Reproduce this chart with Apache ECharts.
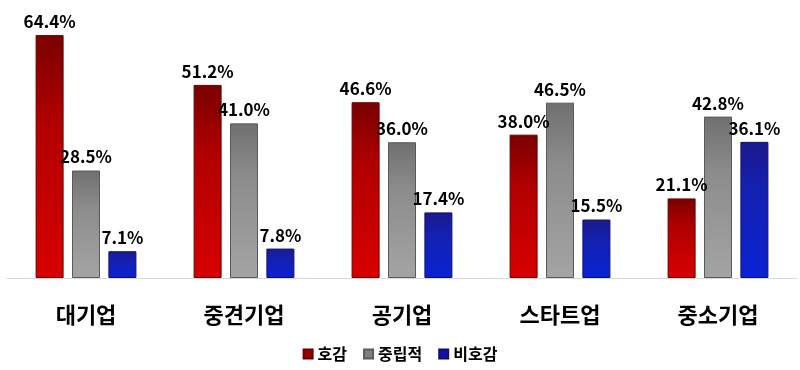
<!DOCTYPE html>
<html><head><meta charset="utf-8">
<script src="https://cdn.jsdelivr.net/npm/echarts@6/dist/echarts.min.js"></script>
<style>html,body{margin:0;padding:0;background:#fff}#c{width:800px;height:370px}</style>
</head><body><div id="c"></div>
<script>
const categories = ['대기업', '중견기업', '공기업', '스타트업', '중소기업'];
const favorable = [64.4, 51.2, 46.6, 38.0, 21.1];
const neutral = [28.5, 41.0, 36.0, 46.5, 42.8];
const unfavorable = [7.1, 7.8, 17.4, 15.5, 36.1];
const seriesNames = ['호감', '중립적', '비호감'];

const font = '"Noto Sans CJK KR", "Noto Sans", sans-serif';
function grad(top, mid, bottom) {
  return new echarts.graphic.LinearGradient(0, 0, 0, 1, [{offset: 0, color: top}, {offset: 0.35, color: mid}, {offset: 1, color: bottom}]);
}
const styles = [
  {color: grad('#7a0000', '#b00000', '#d80000'), borderColor: '#6a0000', borderWidth: 1},
  {color: grad('#707070', '#8c8c8c', '#a4a4a4'), borderColor: '#5a5a5a', borderWidth: 1},
  {color: grad('#1a1a8c', '#1420b0', '#0a22d4'), borderColor: '#10106a', borderWidth: 1}
];
const legendColors = ['#a00000', '#808080', '#1010b0'];
const data = [favorable, neutral, unfavorable];

const chart = echarts.init(document.getElementById('c'));
chart.setOption({
  animation: false,
  legend: {
    bottom: 3, left: 'center', itemWidth: 9, itemHeight: 9, itemGap: 16,
    icon: 'rect',
    textStyle: {fontFamily: font, fontSize: 16, fontWeight: 'bold', color: '#000'},
    data: seriesNames.map((n, i) => ({name: n, itemStyle: {color: legendColors[i]}}))
  },
  grid: {left: 7, right: 3, top: 14, bottom: 92, containLabel: false},
  xAxis: {
    type: 'category', data: categories,
    axisLine: {lineStyle: {color: '#d9d9d9', width: 1}},
    axisTick: {show: false},
    axisLabel: {fontFamily: font, fontSize: 22, fontWeight: 'bold', color: '#000', margin: 26}
  },
  yAxis: {type: 'value', min: 0, max: 70, show: false, splitLine: {show: false}},
  series: data.map((d, i) => ({
    name: seriesNames[i], type: 'bar', data: d, barWidth: 28, barGap: '30%',
    itemStyle: styles[i],
    label: {show: true, position: 'top', distance: 5, formatter: p => p.value.toFixed(1) + '%',
      fontFamily: font, fontSize: 17, fontWeight: 'bold', color: '#000'}
  }))
});
</script></body></html>
